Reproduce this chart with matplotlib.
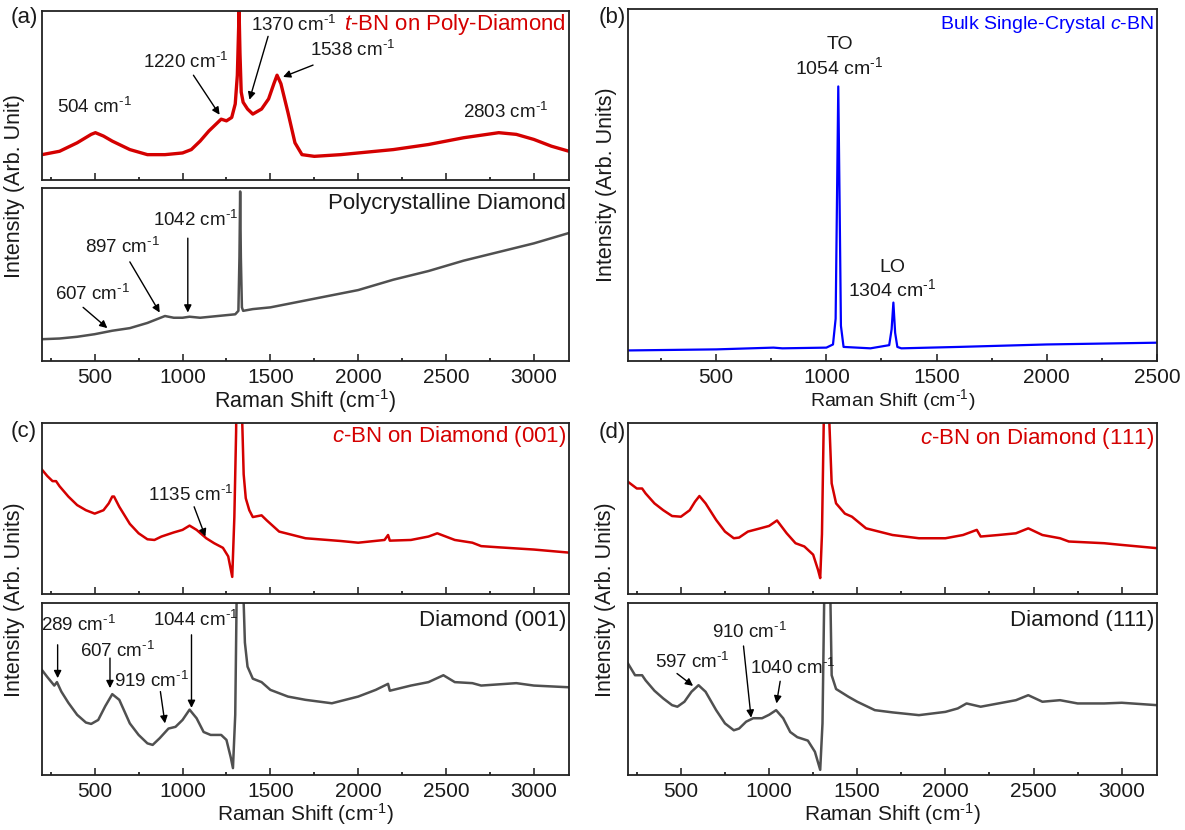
import numpy as np
import matplotlib
matplotlib.use("Agg")
from matplotlib import pyplot as plt

plt.rcParams["font.family"] = ["Liberation Sans", "DejaVu Sans"]
plt.rcParams["mathtext.fontset"] = "custom"
plt.rcParams["mathtext.rm"] = "Liberation Sans"
plt.rcParams["mathtext.it"] = "Liberation Sans:italic"

RED = "#d40000"
GRAY = "#505050"
BLUE = "#0000ff"
INK = "#1a1a1a"
CM = r"cm$^{\text{-}1}$"

# ---- (a) t-BN on poly-diamond (relative intensity, 0..1 of panel) ----
a_top_x = [200, 300, 400, 480, 504, 550, 600, 700, 800, 900, 1000, 1050, 1100, 1150,
           1200, 1220, 1250, 1280, 1300, 1312, 1318, 1322, 1327, 1334, 1345, 1370, 1400,
           1450, 1490, 1520, 1538, 1560, 1600, 1640, 1680, 1750, 1900, 2000, 2200, 2400,
           2600, 2800, 2900, 3000, 3100, 3200]
a_top_y = [0.15, 0.17, 0.22, 0.27, 0.28, 0.26, 0.23, 0.18, 0.15, 0.15, 0.16, 0.18, 0.23, 0.29,
           0.34, 0.36, 0.35, 0.37, 0.45, 0.62, 0.85, 1.0, 0.75, 0.52, 0.46, 0.42, 0.39,
           0.42, 0.48, 0.57, 0.62, 0.57, 0.40, 0.22, 0.15, 0.14, 0.15, 0.16, 0.18, 0.21,
           0.25, 0.28, 0.27, 0.24, 0.20, 0.17]

a_bot_x = [200, 300, 400, 500, 600, 700, 800, 850, 900, 950, 1000, 1040, 1100, 1200, 1300,
           1318, 1324, 1328, 1332, 1338, 1345, 1400, 1500, 1600, 1700, 1800, 1900, 2000,
           2200, 2400, 2500, 2600, 2800, 3000, 3100, 3200]
a_bot_y = [0.126, 0.13, 0.14, 0.155, 0.175, 0.19, 0.22, 0.24, 0.26, 0.25, 0.25, 0.256, 0.25,
           0.26, 0.27, 0.29, 0.6, 0.98, 0.6, 0.31, 0.29, 0.30, 0.31, 0.33, 0.35, 0.37, 0.39,
           0.41, 0.47, 0.52, 0.55, 0.58, 0.63, 0.68, 0.71, 0.74]

# ---- (b) bulk single-crystal c-BN ----
b_x = [100, 500, 760, 800, 1000, 1030, 1042, 1048, 1054, 1060, 1066, 1078, 1200, 1285,
       1296, 1304, 1312, 1322, 1340, 1600, 2000, 2500]
b_y = [0.030, 0.033, 0.038, 0.036, 0.038, 0.047, 0.12, 0.45, 0.78, 0.45, 0.10, 0.04, 0.036,
       0.045, 0.09, 0.166, 0.08, 0.04, 0.036, 0.040, 0.047, 0.052]

# ---- (c) c-BN on diamond (001) / diamond (001) ----
c_top_x = [200, 230, 260, 280, 300, 350, 400, 450, 500, 550, 580, 600, 610, 640, 700, 750,
           800, 840, 880, 950, 1000, 1040, 1080, 1135, 1180, 1230, 1260, 1283, 1295, 1305,
           1320, 1332, 1340, 1348, 1360, 1380, 1400, 1450, 1480, 1550, 1700, 1900, 2000,
           2150, 2170, 2180, 2300, 2400, 2450, 2550, 2650, 2700, 2800, 3000, 3200]
c_top_y = [0.727, 0.69, 0.66, 0.66, 0.63, 0.57, 0.52, 0.49, 0.47, 0.49, 0.53, 0.57, 0.57, 0.51,
           0.41, 0.355, 0.32, 0.316, 0.336, 0.36, 0.375, 0.40, 0.375, 0.326, 0.297, 0.27, 0.22,
           0.10, 0.45, 0.95, 2.5, 4.0, 1.0, 0.70, 0.56, 0.49, 0.45, 0.46, 0.43, 0.365, 0.326,
           0.31, 0.30, 0.316, 0.345, 0.312, 0.316, 0.336, 0.355, 0.316, 0.30, 0.28, 0.273,
           0.26, 0.242]

c_bot_x = [200, 230, 270, 285, 310, 350, 400, 450, 480, 520, 560, 600, 640, 700, 750, 800,
           830, 870, 920, 960, 1000, 1040, 1080, 1120, 1160, 1220, 1250, 1275, 1287, 1300,
           1310, 1332, 1345, 1355, 1370, 1400, 1450, 1500, 1600, 1700, 1850, 2000, 2100,
           2170, 2180, 2300, 2400, 2485, 2550, 2650, 2700, 2900, 3000, 3200]
c_bot_y = [0.61, 0.57, 0.52, 0.54, 0.485, 0.42, 0.35, 0.305, 0.297, 0.32, 0.40, 0.47, 0.437,
           0.30, 0.233, 0.184, 0.175, 0.214, 0.27, 0.28, 0.32, 0.38, 0.33, 0.25, 0.233, 0.233,
           0.204, 0.1, 0.04, 0.35, 1.2, 4.0, 1.1, 0.77, 0.63, 0.56, 0.54, 0.495, 0.456, 0.437,
           0.417, 0.456, 0.495, 0.53, 0.49, 0.52, 0.54, 0.58, 0.54, 0.534, 0.52, 0.534, 0.52,
           0.51]

# ---- (d) c-BN on diamond (111) / diamond (111) ----
d_top_x = [200, 250, 280, 300, 350, 400, 450, 500, 550, 580, 605, 640, 700, 750, 800, 830,
           880, 950, 1000, 1045, 1100, 1150, 1200, 1250, 1278, 1290, 1300, 1310, 1320, 1332,
           1342, 1355, 1380, 1430, 1470, 1550, 1700, 1850, 2000, 2100, 2178, 2200, 2300, 2400,
           2470, 2550, 2650, 2700, 2900, 3000, 3200]
d_top_y = [0.656, 0.617, 0.617, 0.588, 0.53, 0.49, 0.456, 0.452, 0.49, 0.54, 0.573, 0.53,
           0.433, 0.365, 0.326, 0.33, 0.365, 0.384, 0.398, 0.43, 0.355, 0.297, 0.278, 0.23,
           0.14, 0.093, 0.35, 1.0, 2.5, 4.0, 1.0, 0.647, 0.53, 0.47, 0.452, 0.384, 0.345,
           0.326, 0.326, 0.345, 0.375, 0.336, 0.345, 0.355, 0.384, 0.345, 0.326, 0.307, 0.297,
           0.287, 0.268]

d_bot_x = [200, 240, 280, 300, 350, 400, 450, 480, 520, 560, 600, 640, 700, 750, 800, 830,
           870, 910, 960, 1000, 1040, 1080, 1120, 1160, 1220, 1260, 1290, 1303, 1315, 1332,
           1345, 1355, 1380, 1450, 1500, 1600, 1700, 1850, 2000, 2070, 2120, 2200, 2300, 2400,
           2470, 2550, 2650, 2750, 2900, 3000, 3200]
d_bot_y = [0.648, 0.58, 0.58, 0.55, 0.49, 0.445, 0.406, 0.397, 0.426, 0.484, 0.522, 0.484,
           0.377, 0.30, 0.26, 0.27, 0.31, 0.33, 0.33, 0.35, 0.377, 0.33, 0.25, 0.22, 0.20,
           0.135, 0.03, 0.3, 1.2, 4.0, 1.2, 0.58, 0.50, 0.455, 0.426, 0.377, 0.364, 0.348,
           0.367, 0.387, 0.416, 0.397, 0.416, 0.435, 0.464, 0.426, 0.435, 0.416, 0.416, 0.42,
           0.406]

W, H = 1185, 830
fig = plt.figure(figsize=(W / 100, H / 100), dpi=100)


def box(x0, y0, x1, y1):
    # pixel box (top-left origin) -> figure rect
    return [x0 / W, 1 - y1 / H, (x1 - x0) / W, (y1 - y0) / H]


def style(ax, xlim, major, labels=True):
    ax.set_xlim(*xlim)
    ax.set_ylim(0, 1)
    ax.set_yticks([])
    ax.set_xticks(np.arange(major[0], xlim[1] + 1, 500))
    ax.set_xticks(np.arange(major[0] - 250, xlim[1] + 1, 250), minor=True)
    ax.tick_params(axis="x", which="major", direction="in", length=5, width=1.1,
                   labelsize=15, colors=INK, pad=5, labelbottom=labels)
    ax.tick_params(axis="x", which="minor", direction="in", length=2.5, width=1.1)
    for s in ax.spines.values():
        s.set_linewidth(1.3)
        s.set_color("#222222")


def arrow(ax, start, end):
    ax.annotate("", xy=end, xytext=start,
                arrowprops=dict(arrowstyle="-|>", color="k", lw=1.0,
                                mutation_scale=11, shrinkA=0, shrinkB=0))


def label(ax, x, y, s, size=13.5, **kw):
    ax.text(x, y, s, fontsize=size, color=INK, ha="center", va="center", **kw)


def title(ax, s, color, y=0.91, size=16):
    ax.text(0.995, y, s, transform=ax.transAxes, ha="right", va="center",
            fontsize=size, color=color)


def xlab(ax, size=15):
    ax.set_xlabel("Raman Shift (" + CM + ")", fontsize=size, color=INK, labelpad=0)


# ---------------- (a) ----------------
ax = fig.add_axes(box(42, 11, 569, 180))
ax.plot(a_top_x, a_top_y, color=RED, lw=2.4)
style(ax, (200, 3200), (500,), labels=False)
title(ax, r"$\mathit{t}$-BN on Poly-Diamond", RED, y=0.92)
label(ax, 498, 0.43, "504 " + CM)
label(ax, 2838, 0.40, "2803 " + CM)
label(ax, 1019, 0.70, "1220 " + CM)
arrow(ax, (1062, 0.62), (1211, 0.386))
label(ax, 1630, 0.92, "1370 " + CM)
arrow(ax, (1487, 0.85), (1381, 0.475))
label(ax, 1966, 0.77, "1538 " + CM)
arrow(ax, (1743, 0.68), (1572, 0.61))

ax = fig.add_axes(box(42, 188, 569, 361))
ax.plot(a_bot_x, a_bot_y, color=GRAY, lw=1.8)
style(ax, (200, 3200), (500,))
xlab(ax, 15.5)
title(ax, "Polycrystalline Diamond", INK, y=0.91)
label(ax, 1072, 0.815, "1042 " + CM)
arrow(ax, (1030, 0.71), (1030, 0.28))
label(ax, 657, 0.66, "897 " + CM)
arrow(ax, (700, 0.573), (870, 0.28))
label(ax, 487, 0.39, "607 " + CM)
arrow(ax, (434, 0.31), (572, 0.19))

fig.text(15 / W, 1 - 186 / H, "Intensity (Arb. Unit)", rotation=90, ha="center",
         va="center", fontsize=15.5, color=INK)
fig.text(24 / W, 1 - 18 / H, "(a)", ha="center", va="center", fontsize=16, color=INK)

# ---------------- (b) ----------------
ax = fig.add_axes(box(628, 9, 1157, 361))
ax.plot(b_x, b_y, color=BLUE, lw=1.6)
style(ax, (100, 2500), (500,))
xlab(ax, 14)
title(ax, r"Bulk Single-Crystal $\mathit{c}$-BN", BLUE, y=0.957, size=14)
label(ax, 1062, 0.90, "TO", size=14)
label(ax, 1058, 0.835, "1054 " + CM, size=14)
label(ax, 1300, 0.265, "LO", size=14)
label(ax, 1300, 0.205, "1304 " + CM, size=14)
ax.set_ylabel("Intensity (Arb. Units)", fontsize=15.5, color=INK, labelpad=8)
fig.text(612 / W, 1 - 17 / H, "(b)", ha="center", va="center", fontsize=16, color=INK)

# ---------------- (c) ----------------
ax = fig.add_axes(box(42, 423, 569, 594))
ax.plot(c_top_x, c_top_y, color=RED, lw=1.8)
style(ax, (200, 3200), (500,), labels=False)
title(ax, r"$\mathit{c}$-BN on Diamond (001)", RED, y=0.92)
label(ax, 1045, 0.58, "1135 " + CM)
arrow(ax, (1066, 0.51), (1130, 0.336))

ax = fig.add_axes(box(42, 603, 569, 775))
ax.plot(c_bot_x, c_bot_y, color=GRAY, lw=1.8)
style(ax, (200, 3200), (500,))
xlab(ax)
title(ax, "Diamond (001)", INK, y=0.90)
label(ax, 406, 0.87, "289 " + CM)
arrow(ax, (289, 0.757), (289, 0.563))
label(ax, 630, 0.72, "607 " + CM)
arrow(ax, (587, 0.68), (587, 0.505))
label(ax, 821, 0.544, "919 " + CM)
arrow(ax, (874, 0.485), (900, 0.30))
label(ax, 1077, 0.90, "1044 " + CM)
arrow(ax, (1051, 0.815), (1051, 0.39))

fig.text(15 / W, 1 - 600 / H, "Intensity (Arb. Units)", rotation=90, ha="center",
         va="center", fontsize=15.5, color=INK)
fig.text(24 / W, 1 - 431 / H, "(c)", ha="center", va="center", fontsize=16, color=INK)

# ---------------- (d) ----------------
ax = fig.add_axes(box(628, 423, 1157, 594))
ax.plot(d_top_x, d_top_y, color=RED, lw=1.8)
style(ax, (200, 3200), (500,), labels=False)
title(ax, r"$\mathit{c}$-BN on Diamond (111)", RED, y=0.91)

ax = fig.add_axes(box(628, 603, 1157, 775))
ax.plot(d_bot_x, d_bot_y, color=GRAY, lw=1.8)
style(ax, (200, 3200), (500,))
xlab(ax)
title(ax, "Diamond (111)", INK, y=0.90)
label(ax, 565, 0.658, "597 " + CM)
arrow(ax, (478, 0.59), (569, 0.518))
label(ax, 887, 0.83, "910 " + CM)
arrow(ax, (855, 0.75), (898, 0.333))
label(ax, 1134, 0.62, "1040 " + CM)
arrow(ax, (1063, 0.545), (1042, 0.416))

fig.text(605 / W, 1 - 600 / H, "Intensity (Arb. Units)", rotation=90, ha="center",
         va="center", fontsize=15.5, color=INK)
fig.text(612 / W, 1 - 432 / H, "(d)", ha="center", va="center", fontsize=16, color=INK)

fig.savefig("out.png", dpi=100)
